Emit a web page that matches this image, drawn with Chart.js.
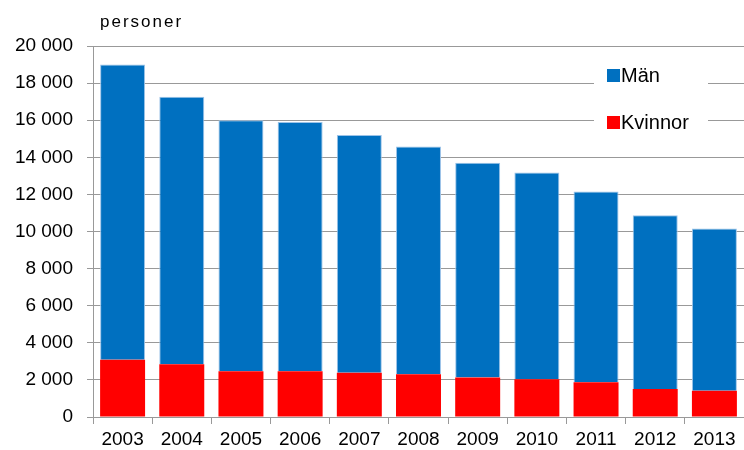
<!DOCTYPE html>
<html>
<head>
<meta charset="utf-8">
<script src="https://cdn.jsdelivr.net/npm/chart.js@4"></script>
<style>
    html, body { margin: 0; padding: 0; background: #fff; }
    #wrap { width: 744px; height: 450px; }
</style>
</head>
<body>
<div id="wrap"><canvas id="chart" width="744" height="450"></canvas></div>
<script>
// Data
const years = ['2003', '2004', '2005', '2006', '2007', '2008', '2009', '2010', '2011', '2012', '2013'];
const kvinnor = [3090, 2840, 2470, 2470, 2380, 2310, 2130, 2040, 1870, 1510, 1420];
const man = [15910, 14430, 13530, 13430, 12820, 12270, 11570, 11140, 10280, 9360, 8740];
const yTicks = [0, 2000, 4000, 6000, 8000, 10000, 12000, 14000, 16000, 18000, 20000];

const FONT = '"Liberation Sans", Arial, sans-serif';
const GRID = '#999999';

function fmt(v) {
    return String(v).replace(/\B(?=(\d{3})+(?!\d))/g, ' ');
}

// unit label + legend drawn inside the plot area
const extras = {
    id: 'extras',
    afterDraw(chart) {
        const ctx = chart.ctx;
        ctx.save();
        ctx.fillStyle = '#000';
        ctx.font = '17px ' + FONT;
        ctx.textBaseline = 'alphabetic';
        ctx.textAlign = 'left';
        if ('letterSpacing' in ctx) ctx.letterSpacing = '2px';
        ctx.fillText('personer', 100, 27);
        if ('letterSpacing' in ctx) ctx.letterSpacing = '0px';

        // legend box hides the gridlines behind it
        ctx.fillStyle = '#fff';
        ctx.fillRect(594, 62, 114, 78);
        const items = [chart.data.datasets[1], chart.data.datasets[0]];
        ctx.font = '20px ' + FONT;
        items.forEach((ds, i) => {
            const y = 69 + i * 47;
            ctx.fillStyle = ds.backgroundColor;
            ctx.fillRect(607, y, 13, 13);
            ctx.fillStyle = '#000';
            ctx.fillText(ds.label, 621, y + 13);
        });
        ctx.restore();
    }
};

new Chart(document.getElementById('chart'), {
    type: 'bar',
    data: {
        labels: years,
        datasets: [
            {
                label: 'Kvinnor',
                data: kvinnor,
                backgroundColor: '#ff0000',
                borderWidth: 0,
                categoryPercentage: 1,
                barPercentage: 0.76
            },
            {
                label: 'Män',
                data: man,
                backgroundColor: '#0070c0',
                borderColor: '#9cc3e8',
                borderWidth: 1,
                categoryPercentage: 1,
                barPercentage: 0.76
            }
        ]
    },
    options: {
        responsive: false,
        animation: false,
        layout: { padding: { top: 46, right: 0, left: 0, bottom: 0 } },
        plugins: {
            legend: { display: false },
            tooltip: { enabled: false }
        },
        scales: {
            x: {
                stacked: true,
                grid: {
                    offset: true,
                    drawOnChartArea: false,
                    tickLength: 7,
                    color: GRID,
                    lineWidth: 1
                },
                border: { color: GRID, width: 1 },
                ticks: {
                    color: '#000',
                    font: { family: FONT, size: 19 },
                    padding: 4,
                    maxRotation: 0,
                    autoSkip: false
                },
                afterFit(scale) { scale.height = 33; }
            },
            y: {
                stacked: true,
                min: 0,
                max: 20000,
                afterBuildTicks(scale) {
                    scale.ticks = yTicks.map(v => ({ value: v }));
                },
                grid: {
                    color: GRID,
                    lineWidth: 1,
                    tickLength: 6
                },
                border: { color: GRID, width: 1 },
                ticks: {
                    color: '#000',
                    font: { family: FONT, size: 19 },
                    padding: 14,
                    callback: v => fmt(v)
                },
                afterFit(scale) { scale.width = 93; }
            }
        }
    },
    plugins: [extras]
});
</script>
</body>
</html>
